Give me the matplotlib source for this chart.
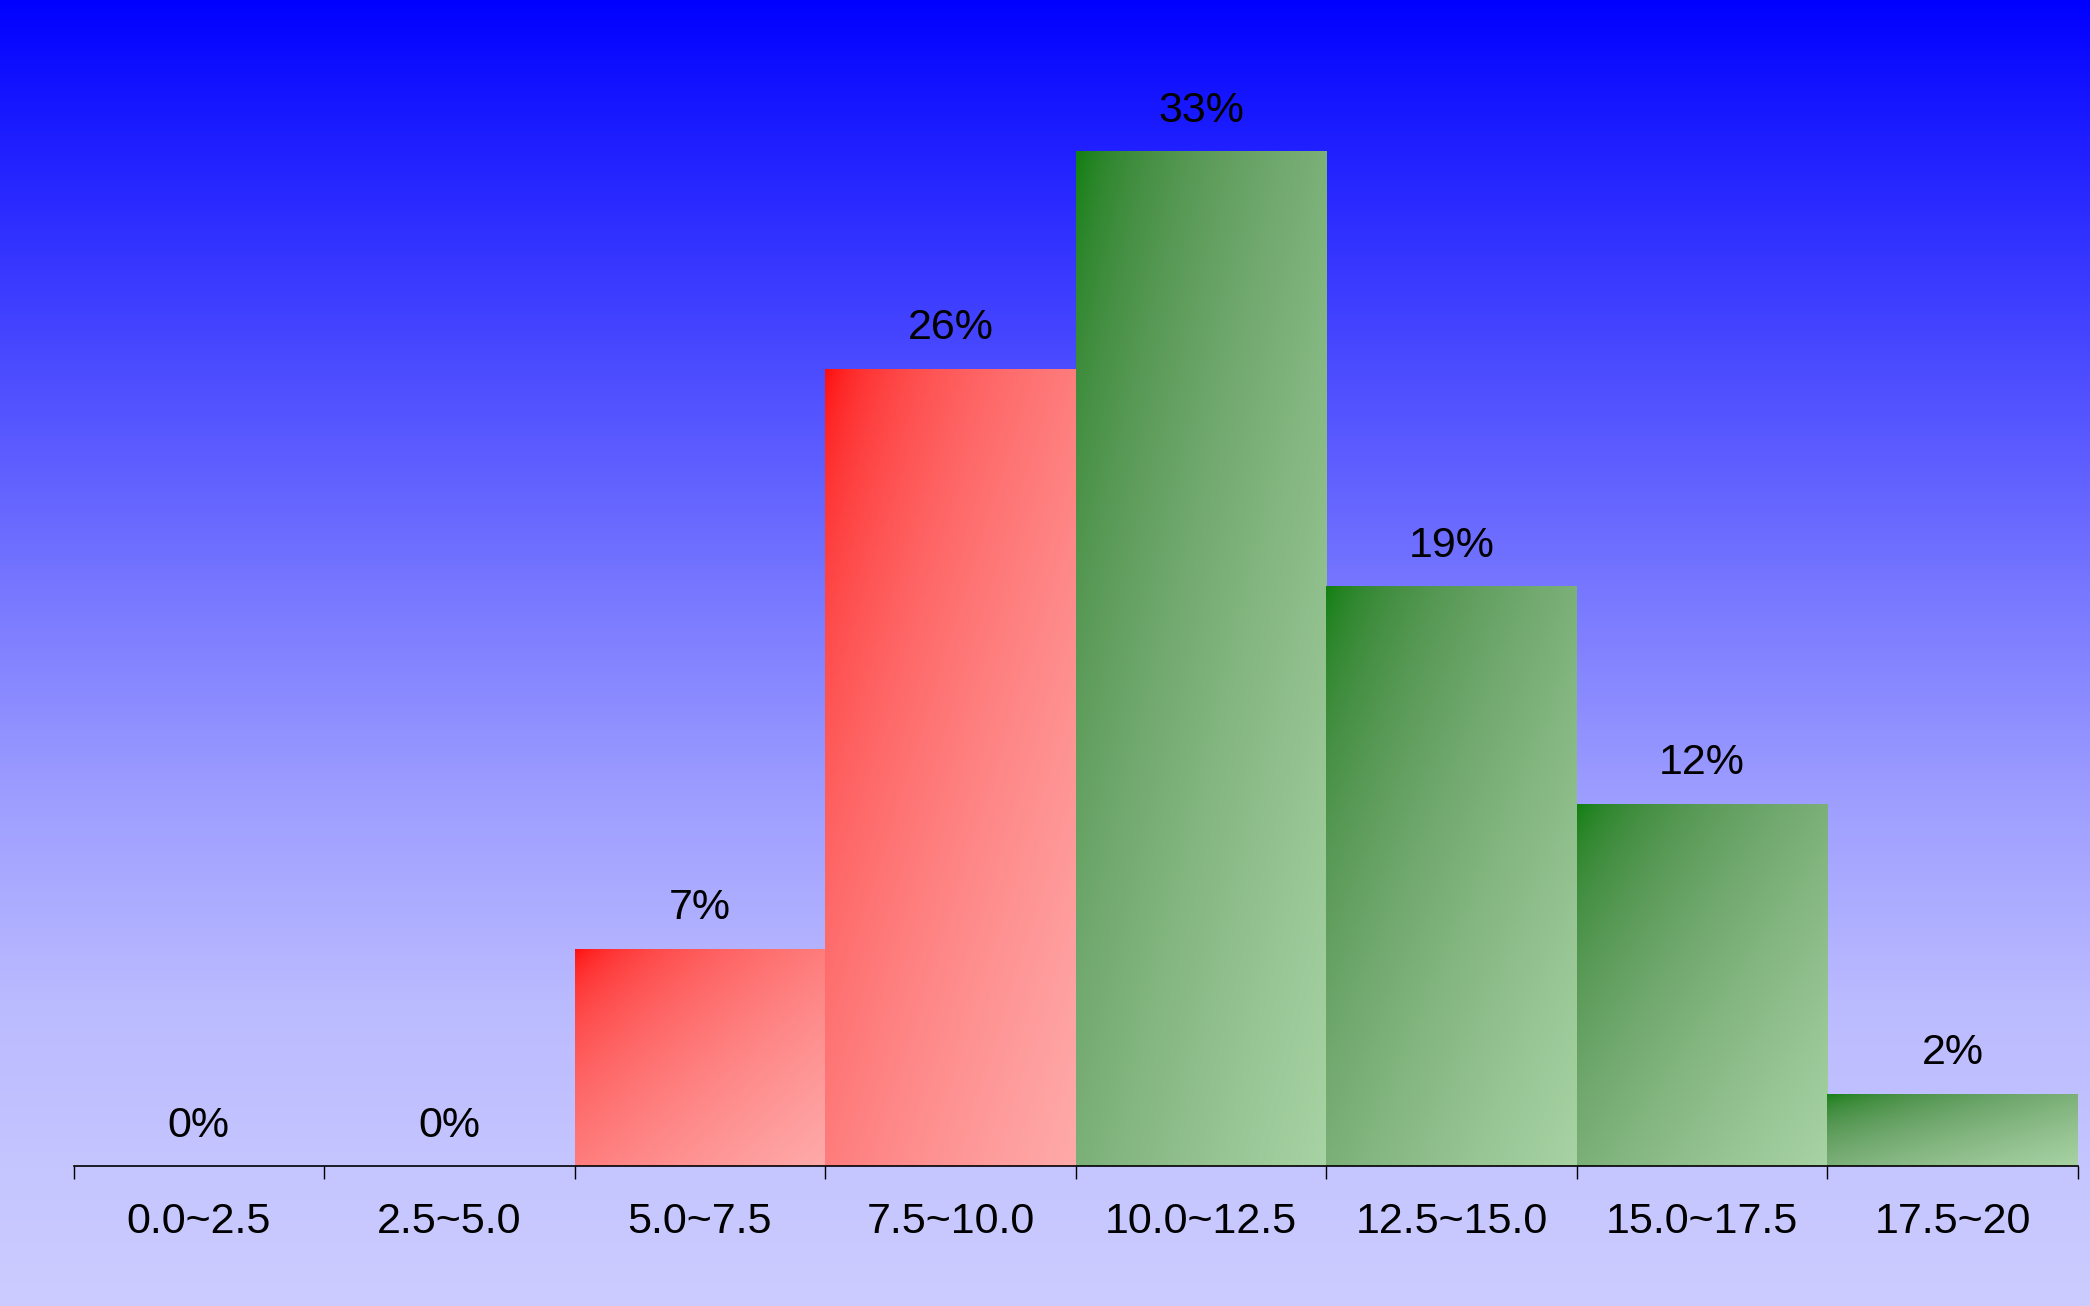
import numpy as np
from matplotlib import pyplot as plt

plt.rcParams['font.family'] = ['Liberation Sans', 'DejaVu Sans']

# bins and counts (labels are share of total, rounded)
bin_labels = ["0.0~2.5", "2.5~5.0", "5.0~7.5", "7.5~10.0",
              "10.0~12.5", "12.5~15.0", "15.0~17.5", "17.5~20"]
counts = [0, 0, 3, 11, 14, 8, 5, 1]
is_red = [True, True, True, True, False, False, False, False]

RED = ((255, 10, 10), (255, 170, 170))
GREEN = ((14, 128, 14), (168, 211, 164))


def to_lin(c):
    c = np.asarray(c) / 255.0
    return np.where(c <= 0.04045, c / 12.92, ((c + 0.055) / 1.055) ** 2.4)


def to_srgb(c):
    return np.where(c <= 0.0031308, c * 12.92, 1.055 * np.clip(c, 0, 1) ** (1 / 2.4) - 0.055)


def diag_gradient(c0, c1, n=200):
    # top-left -> bottom-right, in bar box units, mixed in linear light
    u = np.linspace(0, 1, n)[None, :]
    v = np.linspace(0, 1, n)[:, None]
    t = ((u + v) / 2)[..., None]
    l0, l1 = to_lin(c0), to_lin(c1)
    return np.clip(to_srgb(l0 * (1 - t) + l1 * t), 0, 1)


W, H, DPI = 2090, 1306, 100
fig = plt.figure(figsize=(W / DPI, H / DPI), dpi=DPI)

# background: blue at top fading to pale lavender
bg = fig.add_axes([0, 0, 1, 1], zorder=0)
ys = np.linspace(0, 1, 600)
stop_y = [0, 0.077, 0.153, 0.306, 0.46, 0.613, 0.766, 0.919, 1.0]
stop_v = [0, 22, 42, 82, 121, 158, 186, 199, 204]
g = np.interp(ys, stop_y, stop_v) / 255.0
bg_img = np.stack([g, g, np.ones_like(g)], axis=-1)[:, None, :]
bg.imshow(bg_img, aspect='auto', extent=(0, 1, 0, 1), interpolation='bilinear')
bg.set_axis_off()

ax_left, ax_right = 73.5 / W, 2078 / W
ax_bottom = (H - 1166) / H
ax_height = (1166 - 151) / H
ax = fig.add_axes([ax_left, ax_bottom, ax_right - ax_left, ax_height], zorder=1)
ax.set_facecolor('none')

x = np.arange(len(counts))
bars = ax.bar(x, counts, width=1.0, align='edge', facecolor='none', linewidth=0)
total = sum(counts)
for bar, cnt, red in zip(bars, counts, is_red):
    x0, w, h = bar.get_x(), bar.get_width(), bar.get_height()
    if h > 0:
        c0, c1 = RED if red else GREEN
        im = ax.imshow(diag_gradient(c0, c1), extent=(x0, x0 + w, 0, h),
                       aspect='auto', interpolation='bilinear', origin='upper', zorder=2)
        im.set_clip_path(bar)
    ax.annotate(f"{round(cnt / total * 100)}%", (x0 + w / 2, h),
                xytext=(0, 21), textcoords='offset points',
                ha='center', va='baseline', fontsize=31, color='black',
                annotation_clip=False)

ax.set_xlim(0, len(counts))
ax.set_ylim(0, max(counts))
ax.set_aspect('auto')

for side in ('top', 'right', 'left'):
    ax.spines[side].set_visible(False)
ax.spines['bottom'].set_color('black')
ax.spines['bottom'].set_linewidth(1.2)
ax.spines['bottom'].set_zorder(3)

ax.set_yticks([])
ax.set_xticks(np.arange(len(counts) + 1))
ax.set_xticklabels([])
ax.tick_params(axis='x', which='major', length=9.4, width=1.0, color='black')
ax.set_xticks(x + 0.5, minor=True)
ax.set_xticklabels(bin_labels, minor=True, fontsize=31)
ax.tick_params(axis='x', which='minor', length=0, pad=26)

fig.savefig("out.png", dpi=DPI)
